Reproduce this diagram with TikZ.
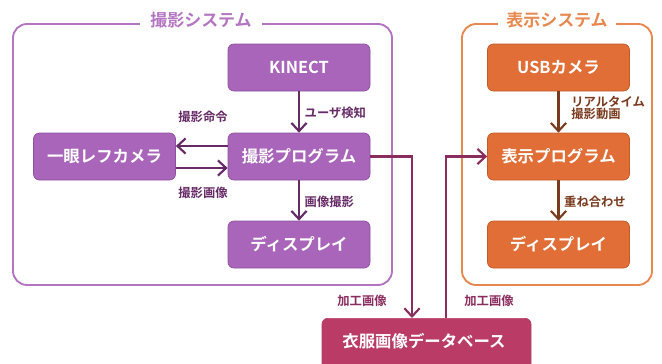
\documentclass[tikz,border=0pt]{standalone}
\usepackage{fontspec}
\setmainfont{Noto Sans CJK JP Bold}
\usetikzlibrary{arrows.meta}
\definecolor{pfill}{HTML}{A865B9}
\definecolor{pdraw}{HTML}{8E4FA0}
\definecolor{pframe}{HTML}{B375C2}
\definecolor{parrow}{HTML}{662A66}
\definecolor{ofill}{HTML}{E06E36}
\definecolor{odraw}{HTML}{C45A26}
\definecolor{oframe}{HTML}{E8884E}
\definecolor{oarrow}{HTML}{7A3A1E}
\definecolor{dbfill}{HTML}{B93B66}
\definecolor{dbline}{HTML}{8A2D5E}
\tikzset{
  box/.style={rounded corners=5pt, minimum width=142*0.03cm, minimum height=47*0.03cm, text=white, font=\fontsize{14}{16}\selectfont, inner sep=0pt, line width=0.6pt},
  pbox/.style={box, fill=pfill, draw=pdraw},
  obox/.style={box, fill=ofill, draw=odraw},
  frame/.style={rounded corners=12pt, line width=1.6pt},
  ttl/.style={fill=white, inner xsep=9pt, inner ysep=2pt, font=\fontsize{14.5}{16}\selectfont},
  lbl/.style={font=\fontsize{10.5}{12}\selectfont, inner sep=1pt},
  arr/.style={line width=1.8pt, -{Straight Barb[length=7pt,width=13pt,line width=1.8pt]}},
}
\begin{document}
\begin{tikzpicture}[x=0.03cm,y=-0.03cm]
\useasboundingbox (0,0) rectangle (662,364);
% frames
\draw[frame, draw=pframe] (13,24) rectangle (392,285);
\node[ttl, text=pframe] (t1) at (201,20) {撮影システム};
\draw[frame, draw=oframe] (462,24) rectangle (652,285);
\node[ttl, text=oframe, inner xsep=7pt] (t2) at (557,20) {表示システム};
% left boxes
\node[pbox] (kin) at (299,67.5) {KINECT};
\node[pbox] (prog) at (299,156.5) {撮影プログラム};
\node[pbox] (disp) at (299,244.5) {ディスプレイ};
\node[pbox] (cam) at (104.5,156.5) {一眼レフカメラ};
% right boxes
\node[obox] (usb) at (558.5,67.5) {USBカメラ};
\node[obox] (rprog) at (558.5,156.5) {表示プログラム};
\node[obox] (rdisp) at (558.5,244.5) {ディスプレイ};
% database
\begin{scope}
\clip (0,0) rectangle (662,364);
\node[box, fill=dbfill, draw=dbfill, minimum width=209*0.03cm, minimum height=56*0.03cm, anchor=north] (db) at (426.5,318) {};
\end{scope}
\node[text=white, font=\fontsize{14}{16}\selectfont] (dbt) at (424,341) {衣服画像データベース};
% left arrows
\draw[arr, draw=parrow] (kin) -- (prog) node[lbl, text=parrow, midway, right=3pt, yshift=-1pt] {ユーザ検知};
\draw[arr, draw=parrow] (prog) -- (disp) node[lbl, text=parrow, midway, right=3pt, yshift=-1pt] {画像撮影};
\draw[arr, draw=parrow] (prog.west |- 0,146) -- (cam.east |- 0,146);
\draw[arr, draw=parrow] (cam.east |- 0,168) -- (prog.west |- 0,168);
\node[lbl, text=parrow] (l1) at (203,117) {撮影命令};
\node[lbl, text=parrow] (l2) at (203,193) {撮影画像};
% right arrows
\draw[arr, draw=oarrow] (usb) -- (rprog);
\node[lbl, text=oarrow, anchor=west, align=left, font=\fontsize{10.5}{11}\selectfont] (l3) at (570,108) {リアルタイム\\撮影動画};
\draw[arr, draw=oarrow] (rprog) -- (rdisp) node[lbl, text=oarrow, midway, right=3pt, yshift=-1pt] {重ね合わせ};
% database connectors
\coordinate (c1) at (412,156.5);
\draw[arr, draw=dbline] (prog.east) -- (c1) -- (c1 |- db.north);
\coordinate (c2) at (446,156.5);
\draw[arr, draw=dbline] (c2 |- db.north) -- (c2) -- (rprog.west);
\node[lbl, text=dbline] (l4) at (362,301) {加工画像};
\node[lbl, text=dbline] (l5) at (489,301) {加工画像};
\end{tikzpicture}
\end{document}
